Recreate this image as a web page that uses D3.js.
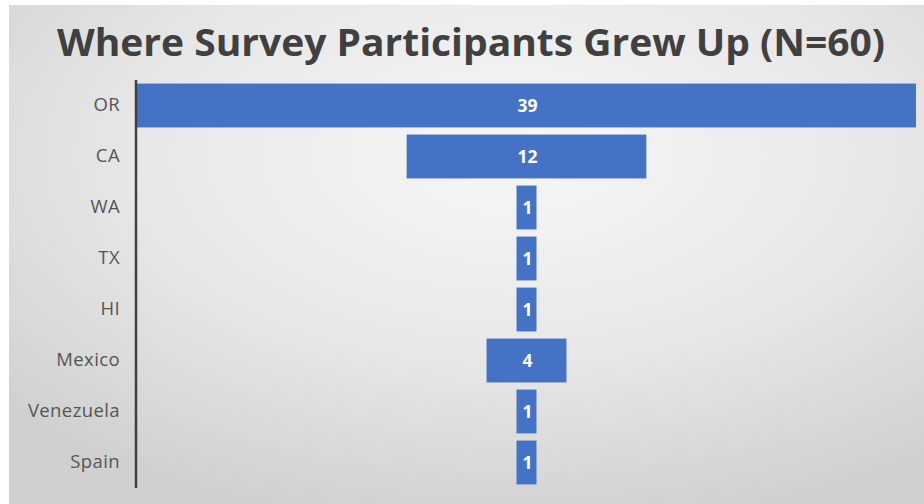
<!DOCTYPE html>
<html>
<head>
<meta charset="utf-8">
<script src="https://cdn.jsdelivr.net/npm/d3@7"></script>
<style>
  html, body { margin: 0; padding: 0; background: #ffffff; }
  svg { display: block; }
</style>
</head>
<body>
<svg id="chart" width="924" height="504"></svg>
<script>
// Where survey participants grew up
const categories = ["OR", "CA", "WA", "TX", "HI", "Mexico", "Venezuela", "Spain"];
const counts = [39, 12, 1, 1, 1, 4, 1, 1];
const titleText = "Where Survey Participants Grew Up (N=60)";

const width = 924, height = 504;
const svg = d3.select("#chart");

// Soft radial backdrop
const defs = svg.append("defs");
const grad = defs.append("radialGradient")
  .attr("id", "bg")
  .attr("cx", "55%").attr("cy", "30%").attr("r", "75%");
grad.append("stop").attr("offset", "0%").attr("stop-color", "#f7f7f7");
grad.append("stop").attr("offset", "55%").attr("stop-color", "#e7e7e7");
grad.append("stop").attr("offset", "100%").attr("stop-color", "#d0d0d0");

svg.append("rect")
  .attr("x", 9).attr("y", 5)
  .attr("width", width - 9).attr("height", height - 5)
  .attr("fill", "url(#bg)");

// Title
svg.append("text")
  .attr("x", 471).attr("y", 56)
  .attr("text-anchor", "middle")
  .attr("font-family", "'Open Sans', sans-serif")
  .attr("font-weight", "bold")
  .attr("font-size", 38)
  .attr("fill", "#404040")
  .attr("textLength", 828)
  .attr("lengthAdjust", "spacingAndGlyphs")
  .text(titleText);

// Scales: bars are centred on zero, spreading half each way
const maxVal = d3.max(counts);
const x = d3.scaleLinear()
  .domain([-maxVal / 2, maxVal / 2])
  .range([137, 916]);

const y = d3.scaleBand()
  .domain(categories)
  .range([80, 488])
  .paddingInner(0.14)
  .paddingOuter(0.07);

const data = categories.map((c, i) => ({ cat: c, val: counts[i] }));

// Bars
svg.append("g")
  .selectAll("rect")
  .data(data)
  .join("rect")
  .attr("x", d => x(-d.val / 2))
  .attr("y", d => y(d.cat))
  .attr("width", d => x(d.val / 2) - x(-d.val / 2))
  .attr("height", y.bandwidth())
  .attr("fill", "#4472c4");

// Value labels
svg.append("g")
  .selectAll("text")
  .data(data)
  .join("text")
  .attr("x", x(0) + 1)
  .attr("y", d => y(d.cat) + y.bandwidth() / 2)
  .attr("dy", "0.36em")
  .attr("text-anchor", "middle")
  .attr("font-family", "'Open Sans', sans-serif")
  .attr("font-weight", "bold")
  .attr("font-size", 17.5)
  .attr("fill", "#ffffff")
  .text(d => d.val);

// Category axis
const yAxis = d3.axisLeft(y).tickSize(0).tickPadding(16);
const axisG = svg.append("g")
  .attr("transform", "translate(136,0)")
  .call(yAxis);
axisG.select(".domain")
  .attr("stroke", "#404040")
  .attr("stroke-width", 2.5)
  .attr("d", "M0,80V488");
axisG.selectAll(".tick text")
  .attr("font-family", "'Open Sans', sans-serif")
  .attr("font-size", 18.5)
  .attr("letter-spacing", 0.4)
  .attr("fill", "#555555");
</script>
</body>
</html>
